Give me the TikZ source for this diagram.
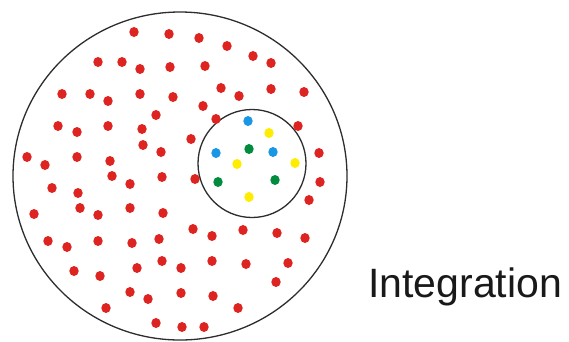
\documentclass[tikz,border=0pt]{standalone}
\usepackage{fontspec}
\setmainfont{Liberation Sans}
\definecolor{dotred}{RGB}{221,36,32}
\definecolor{dotblue}{RGB}{25,150,228}
\definecolor{dotgreen}{RGB}{0,140,60}
\definecolor{dotyellow}{RGB}{255,236,0}
\definecolor{ringgray}{RGB}{45,45,45}
\tikzset{
  ring/.style={draw=ringgray, line width=1.3pt},
  dotshape/.style={x radius=4.7pt, y radius=5.0pt}
}
\begin{document}
\begin{tikzpicture}[x=1pt,y=-1pt]
\useasboundingbox (0,0) rectangle (569,341);
\fill[white] (0,0) rectangle (569,341);
% outer and inner population
\draw[ring] (180,176) ellipse [x radius=167pt, y radius=164pt];
\draw[ring] (252,163.5) circle [radius=54pt];
% red dots
\foreach \p in {(134,32),(169,34),(199,38),(227,46),(253,56),(271,63),
  (98,62),(122,62),(140,69),(170,67),(205,66),
  (62,94),(90,94),(108,101),(140,94),(173,97),(221,88),(239,96),(271,89),(304,92),
  (156,115),(203,106),(216,119),(298,126),
  (58,126),(77,132),(108,126),(142,129),(191,139),
  (143,145),(161,152),(319,153),
  (27,157),(45,165),(77,157),(110,161),
  (112,176),(162,177),(130,184),(195,179),
  (52,188),(78,193),
  (34,214),(80,208),(98,215),(130,208),(163,213),
  (320,182),(309,200),
  (48,241),(67,247),(98,241),(132,243),(159,239),
  (193,229),(212,236),(243,230),(277,233),(305,238),
  (74,271),(100,276),(137,268),(162,261),(181,268),(212,261),(246,264),(288,263),
  (276,282),
  (130,292),(148,299),(181,293),(213,296),
  (106,308),(238,308),
  (156,323),(182,327),(204,327)}
  \fill[dotred] \p ellipse [dotshape];
% blue dots
\foreach \p in {(248,121),(216,153),(273,152)}
  \fill[dotblue] \p ellipse [dotshape];
% yellow dots
\foreach \p in {(269,133),(237,164),(295,163),(249,197)}
  \fill[dotyellow] \p ellipse [dotshape];
% green dots
\foreach \p in {(249,149),(218,182),(275,180)}
  \fill[dotgreen] \p ellipse [dotshape];
% label
\node[anchor=base west, inner sep=0pt, font=\fontsize{41}{45}\selectfont, text=black!90] (label) at (368,297) {Integration};
\end{tikzpicture}
\end{document}
